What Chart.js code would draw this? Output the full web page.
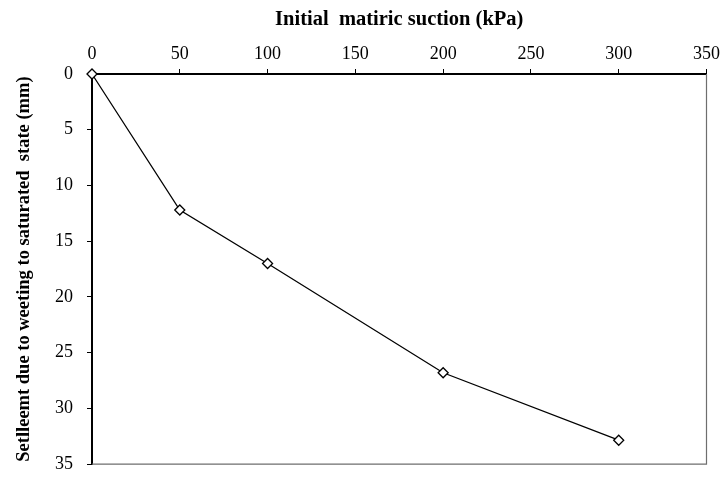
<!DOCTYPE html>
<html>
<head>
<meta charset="utf-8">
<script src="https://cdn.jsdelivr.net/npm/chart.js@4"></script>
<style>
html,body{margin:0;padding:0;background:#fff;}
#wrap{width:724px;height:489px;}
</style>
</head>
<body>
<div id="wrap"><canvas id="c" width="724" height="489"></canvas></div>
<script>
const suction = [0, 50, 100, 200, 300];
const settlement = [0, 12.2, 17.0, 26.8, 32.85];
const xTitle = 'Initial  matiric suction (kPa)';
const yTitle = 'Setlleemt due to weeting to saturated  state (mm)';

const frame = {
  id: 'frame',
  afterDatasetsDraw(chart) {
    const {ctx, chartArea: a} = chart;
    ctx.save();
    ctx.strokeStyle = '#6e6e6e';
    ctx.lineWidth = 1.2;
    ctx.beginPath();
    ctx.moveTo(a.left, a.bottom);
    ctx.lineTo(a.right, a.bottom);
    ctx.lineTo(a.right, a.top);
    ctx.stroke();
    ctx.restore();
  }
};

const serif = '"Liberation Serif", "Times New Roman", serif';
const font = {family: serif, size: 18};
const xtfont = {family: serif, size: 20.5, weight: 'bold'};
const ytfont = {family: serif, size: 18.5, weight: 'bold'};

new Chart(document.getElementById('c'), {
  type: 'scatter',
  data: {
    datasets: [{
      data: suction.map((x, i) => ({x, y: settlement[i]})),
      showLine: true,
      borderColor: '#000',
      borderWidth: 1.3,
      pointStyle: 'rectRot',
      pointRadius: 5,
      pointBackgroundColor: '#fff',
      pointBorderColor: '#000',
      pointBorderWidth: 1.3,
      clip: false
    }]
  },
  options: {
    responsive: false,
    animation: false,
    layout: {padding: {left: 0, top: 0, right: 16.5, bottom: 6}},
    plugins: {
      legend: {display: false},
      tooltip: {enabled: false}
    },
    scales: {
      x: {
        type: 'linear', position: 'top', min: 0, max: 350,
        ticks: {stepSize: 50, color: '#000', font, padding: 4, maxRotation: 0},
        grid: {display: true, drawOnChartArea: false, drawTicks: true, tickLength: 5, tickColor: '#000', tickWidth: 1},
        border: {display: true, color: '#000', width: 2},
        title: {display: true, text: xTitle, color: '#000', font: xtfont, padding: {top: 7, bottom: 0}},
        afterFit(s) { s.height = 74; }
      },
      y: {
        type: 'linear', position: 'left', min: 0, max: 35, reverse: true,
        ticks: {stepSize: 5, color: '#000', font, padding: 14},
        grid: {display: true, drawOnChartArea: false, drawTicks: true, tickLength: 5, tickColor: '#000', tickWidth: 1},
        border: {display: true, color: '#000', width: 2},
        title: {display: true, text: yTitle, color: '#000', font: ytfont, padding: {top: 13, bottom: 0}},
        afterFit(s) { s.width = 92; }
      }
    }
  },
  plugins: [frame]
});
</script>
</body>
</html>
